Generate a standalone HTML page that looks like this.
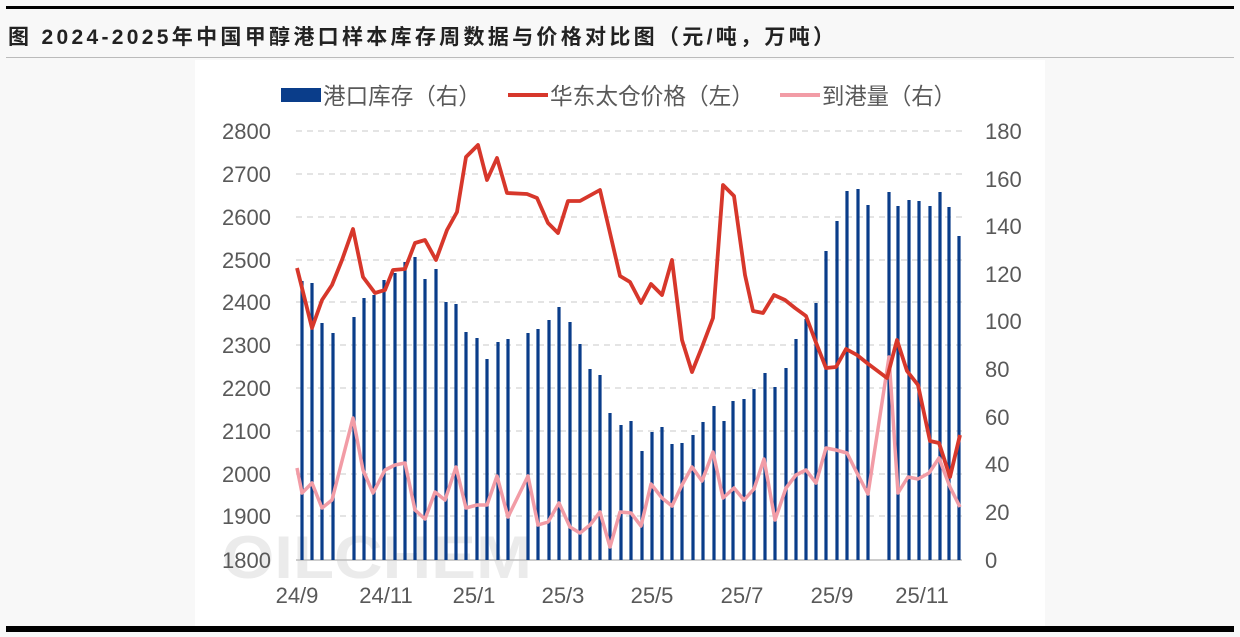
<!DOCTYPE html><html><head><meta charset="utf-8"><style>
body{margin:0;width:1240px;height:632px;background:#f8f8f8;overflow:hidden;font-family:"Liberation Sans","Noto Sans CJK SC",sans-serif}
</style></head><body>
<svg width="1240" height="632" viewBox="0 0 1240 632" xmlns="http://www.w3.org/2000/svg" font-family="Liberation Sans, Noto Sans CJK SC, sans-serif">
<rect x="0" y="0" width="1240" height="632" fill="#f8f8f8"/>
<rect x="6" y="6" width="1228" height="3" fill="#000"/>
<text x="8" y="44" font-size="21" font-weight="bold" fill="#222" textLength="826" lengthAdjust="spacing">图  2024-2025年中国甲醇港口样本库存周数据与价格对比图（元/吨，万吨）</text>
<rect x="6" y="57" width="1228" height="1" fill="#bbb"/>
<rect x="195" y="60" width="850" height="566" fill="#fff"/>
<rect x="6" y="626" width="1228" height="6" fill="#000"/>
<text x="222" y="578" font-size="60" font-weight="bold" fill="#ebebeb" textLength="310" lengthAdjust="spacingAndGlyphs">OILCHEM</text>
<g stroke="#c8c8c8" stroke-dasharray="6,5" stroke-width="1">
<line x1="296" x2="962" y1="131" y2="131"/><line x1="296" x2="962" y1="174" y2="174"/><line x1="296" x2="962" y1="217" y2="217"/><line x1="296" x2="962" y1="260" y2="260"/><line x1="296" x2="962" y1="302" y2="302"/><line x1="296" x2="962" y1="345" y2="345"/><line x1="296" x2="962" y1="388" y2="388"/><line x1="296" x2="962" y1="431" y2="431"/><line x1="296" x2="962" y1="474" y2="474"/><line x1="296" x2="962" y1="516" y2="516"/>
</g>
<line x1="296" x2="962" y1="560" y2="560" stroke="#bbb" stroke-width="1.5"/>
<g font-size="22" fill="#595959" text-anchor="end">
<text x="271" y="139">2800</text><text x="271" y="182">2700</text><text x="271" y="225">2600</text><text x="271" y="268">2500</text><text x="271" y="310">2400</text><text x="271" y="353">2300</text><text x="271" y="396">2200</text><text x="271" y="439">2100</text><text x="271" y="482">2000</text><text x="271" y="524">1900</text><text x="271" y="568">1800</text>
</g>
<g font-size="22" fill="#595959" text-anchor="start">
<text x="985" y="139">180</text><text x="985" y="187">160</text><text x="985" y="234">140</text><text x="985" y="282">120</text><text x="985" y="329">100</text><text x="985" y="377">80</text><text x="985" y="425">60</text><text x="985" y="472">40</text><text x="985" y="520">20</text><text x="985" y="568">0</text>
</g>
<g font-size="22" fill="#595959" text-anchor="middle">
<text x="297" y="603">24/9</text><text x="386" y="603">24/11</text><text x="474" y="603">25/1</text><text x="563" y="603">25/3</text><text x="652" y="603">25/5</text><text x="742" y="603">25/7</text><text x="832" y="603">25/9</text><text x="922" y="603">25/11</text>
</g>
<g stroke="#0a3d8a" stroke-width="3.2">
<line x1="302" x2="302" y1="281" y2="560"/><line x1="312" x2="312" y1="283" y2="560"/><line x1="322" x2="322" y1="323" y2="560"/><line x1="333" x2="333" y1="333" y2="560"/><line x1="354" x2="354" y1="317" y2="560"/><line x1="364" x2="364" y1="298" y2="560"/><line x1="374" x2="374" y1="295" y2="560"/><line x1="384" x2="384" y1="280" y2="560"/><line x1="395" x2="395" y1="273" y2="560"/><line x1="405" x2="405" y1="262" y2="560"/><line x1="415" x2="415" y1="257" y2="560"/><line x1="425" x2="425" y1="279" y2="560"/><line x1="436" x2="436" y1="269" y2="560"/><line x1="446" x2="446" y1="302" y2="560"/><line x1="456" x2="456" y1="304" y2="560"/><line x1="466" x2="466" y1="332" y2="560"/><line x1="477" x2="477" y1="338" y2="560"/><line x1="487" x2="487" y1="359" y2="560"/><line x1="498" x2="498" y1="342" y2="560"/><line x1="508" x2="508" y1="339" y2="560"/><line x1="528" x2="528" y1="333" y2="560"/><line x1="538" x2="538" y1="329" y2="560"/><line x1="549" x2="549" y1="320" y2="560"/><line x1="559" x2="559" y1="307" y2="560"/><line x1="570" x2="570" y1="322" y2="560"/><line x1="580" x2="580" y1="344" y2="560"/><line x1="590" x2="590" y1="369" y2="560"/><line x1="600" x2="600" y1="375" y2="560"/><line x1="610" x2="610" y1="413" y2="560"/><line x1="621" x2="621" y1="425" y2="560"/><line x1="631" x2="631" y1="421" y2="560"/><line x1="642" x2="642" y1="451" y2="560"/><line x1="652" x2="652" y1="432" y2="560"/><line x1="662" x2="662" y1="427" y2="560"/><line x1="672" x2="672" y1="444" y2="560"/><line x1="682" x2="682" y1="443" y2="560"/><line x1="693" x2="693" y1="435" y2="560"/><line x1="703" x2="703" y1="422" y2="560"/><line x1="714" x2="714" y1="406" y2="560"/><line x1="724" x2="724" y1="421" y2="560"/><line x1="733" x2="733" y1="401" y2="560"/><line x1="744" x2="744" y1="399" y2="560"/><line x1="754" x2="754" y1="389" y2="560"/><line x1="765" x2="765" y1="373" y2="560"/><line x1="775" x2="775" y1="387" y2="560"/><line x1="786" x2="786" y1="368" y2="560"/><line x1="796" x2="796" y1="339" y2="560"/><line x1="806" x2="806" y1="319" y2="560"/><line x1="816" x2="816" y1="303" y2="560"/><line x1="826" x2="826" y1="251" y2="560"/><line x1="837" x2="837" y1="221" y2="560"/><line x1="847" x2="847" y1="191" y2="560"/><line x1="858" x2="858" y1="189" y2="560"/><line x1="868" x2="868" y1="205" y2="560"/><line x1="889" x2="889" y1="192" y2="560"/><line x1="898" x2="898" y1="206" y2="560"/><line x1="909" x2="909" y1="200" y2="560"/><line x1="919" x2="919" y1="201" y2="560"/><line x1="930" x2="930" y1="206" y2="560"/><line x1="940" x2="940" y1="192" y2="560"/><line x1="949" x2="949" y1="207" y2="560"/><line x1="959" x2="959" y1="236" y2="560"/>
</g>
<polyline fill="none" stroke="#f29ca6" stroke-width="3.5" stroke-linejoin="round" points="297,468 302,493 312,483 322,508 332,500 353,418 363,470 373,493 385,470 395,465 405,463 415,510 425,519 435,492 445,500 456,467 466,508 477,505 487,505 497,476 508,517 528,476 538,525 548,522 559,503 570,527 580,533 590,525 600,512 610,547 620,512 631,513 641,526 651,484 662,498 672,506 682,485 692,467 702,481 713,452 723,498 734,488 744,500 754,489 764,459 775,520 786,488 796,475 806,470 816,483 826,448 836,450 847,453 857,473 868,494 889,357 898,493 908,477 918,479 929,473 939,458 950,487 960,507"/>
<polyline fill="none" stroke="#d7372b" stroke-width="3.8" stroke-linejoin="round" points="297,268 312,328 322,300 332,285 342,260 353,229 363,277 375,293 385,290 393,270 405,269 415,243 425,240 436,260 447,230 457,212 466,157 478,145 487,180 497,158 507,193 527,194 537,198 548,223 558,233 568,201 580,201 600,190 620,276 630,282 641,303 651,284 662,295 672,260 682,340 692,372 702,347 713,318 723,185 734,196 745,275 753,311 763,313 774,295 785,300 795,308 806,316 815,340 826,368 836,367 846,349 857,355 867,363 887,378 897,340 907,371 918,385 930,441 939,443 950,477 960,435"/>
<rect x="281" y="88" width="40" height="14" fill="#0a3d8a"/>
<text x="323" y="104" font-size="23" fill="#595959" textLength="158" lengthAdjust="spacingAndGlyphs">港口库存（右）</text>
<line x1="508" x2="548" y1="95" y2="95" stroke="#d7372b" stroke-width="4"/>
<text x="550" y="104" font-size="23" fill="#595959" textLength="204" lengthAdjust="spacingAndGlyphs">华东太仓价格（左）</text>
<line x1="780" x2="820" y1="95" y2="95" stroke="#f29ca6" stroke-width="4"/>
<text x="822" y="104" font-size="23" fill="#595959" textLength="134" lengthAdjust="spacingAndGlyphs">到港量（右）</text>
</svg>
</body></html>
